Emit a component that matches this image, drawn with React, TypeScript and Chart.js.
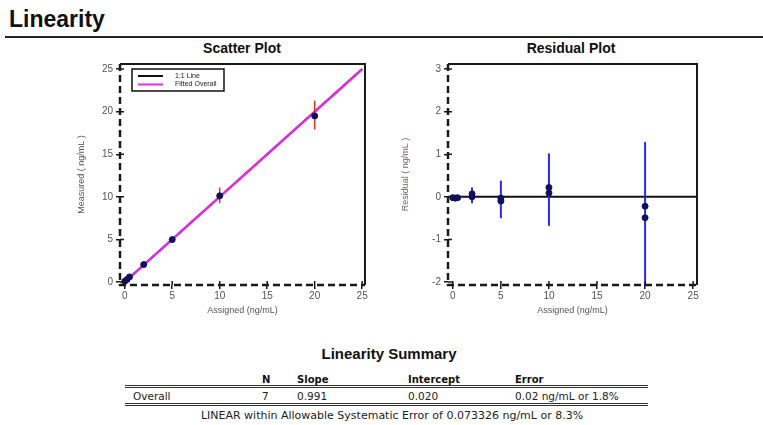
import React, { useEffect, useRef } from "react";
import { Chart, registerables } from "chart.js";

Chart.register(...registerables);

// ---------- data ----------
const xTickValues = [0, 5, 10, 15, 20, 25];
const scatterYTickValues = [0, 5, 10, 15, 20, 25];
const residYTickValues = [-2, -1, 0, 1, 2, 3];

const assigned = [0, 0.25, 0.5, 2, 5, 10, 20];
const measured = [0.08, 0.3, 0.6, 2.05, 4.98, 10.12, 19.5];

const scatterErrX = [5, 10, 20];
const scatterErrLo = [4.85, 9.25, 17.9];
const scatterErrHi = [5.15, 11.1, 21.3];

const identityX = [0, 25];
const identityY = [0, 25];
const fittedX = [0, 25];
const fittedY = [0.02, 24.97];

const residX = [0, 0.25, 0.5, 2, 2, 5, 5, 10, 10, 20, 20];
const residY = [-0.02, -0.03, -0.02, 0.07, 0.0, -0.03, -0.1, 0.22, 0.09, -0.22, -0.49];

const residErrX = [0, 0.25, 0.5, 2, 5, 10, 20];
const residErrLo = [-0.06, -0.06, -0.06, -0.15, -0.5, -0.68, -2.4];
const residErrHi = [0.03, 0.03, 0.03, 0.22, 0.38, 1.02, 1.29];

const zeroLineX = [-1, 26];
const zeroLineY = [0, 0];

const tableHeaders = ["N", "Slope", "Intercept", "Error"];
const tableRow = ["Overall", "7", "0.991", "0.020", "0.02 ng/mL or 1.8%"];
const footerText = "LINEAR within Allowable Systematic Error of 0.073326 ng/mL or 8.3%";

// ---------- styles ----------
const POINT_COLOR = "#10105e";
const AXIS_COLOR = "#1a1a1a";
const TICK_COLOR = "#555";
const FONT = "Arial, 'Liberation Sans', sans-serif";
const TABLE_FONT = "'DejaVu Sans', Verdana, sans-serif";

const pts = (xs: number[], ys: number[]) => xs.map((x, i) => ({ x, y: ys[i] }));

const framePlugin = {
  id: "frame",
  afterDatasetsDraw(chart: any) {
    const { ctx, chartArea: a, scales } = chart;
    ctx.save();
    ctx.strokeStyle = AXIS_COLOR;
    ctx.lineWidth = 2;
    ctx.beginPath();
    ctx.moveTo(a.left, a.top);
    ctx.lineTo(a.right, a.top);
    ctx.lineTo(a.right, a.bottom);
    ctx.stroke();
    ctx.lineWidth = 2.5;
    ctx.setLineDash([7, 4]);
    ctx.beginPath();
    ctx.moveTo(a.left, a.top);
    ctx.lineTo(a.left, a.bottom);
    ctx.lineTo(a.right, a.bottom);
    ctx.stroke();
    ctx.setLineDash([]);
    ctx.lineWidth = 1.5;
    ctx.beginPath();
    scales.x.ticks.forEach((t: any) => {
      const px = scales.x.getPixelForValue(t.value);
      ctx.moveTo(px, a.bottom);
      ctx.lineTo(px, a.bottom - 4);
    });
    scales.y.ticks.forEach((t: any) => {
      const py = scales.y.getPixelForValue(t.value);
      ctx.moveTo(a.left, py);
      ctx.lineTo(a.left + 4, py);
    });
    ctx.stroke();
    ctx.restore();
  },
};

const legendPlugin = {
  id: "boxLegend",
  afterDraw(chart: any) {
    if (!chart.options.plugins.boxLegend?.show) return;
    const { ctx, chartArea: a } = chart;
    const items = chart.data.datasets.filter((d: any) => d.inLegend);
    const x = a.left + 12;
    const y = a.top + 5;
    const w = 92;
    const h = 22;
    ctx.save();
    ctx.fillStyle = "#fff";
    ctx.fillRect(x, y, w, h);
    ctx.strokeStyle = "#111";
    ctx.lineWidth = 1.5;
    ctx.strokeRect(x, y, w, h);
    items.forEach((d: any, i: number) => {
      const ly = y + 7 + i * 8.5;
      ctx.strokeStyle = d.borderColor;
      ctx.lineWidth = 2;
      ctx.beginPath();
      ctx.moveTo(x + 6, ly);
      ctx.lineTo(x + 31, ly);
      ctx.stroke();
      ctx.fillStyle = "#222";
      ctx.font = "7px " + FONT;
      ctx.textBaseline = "middle";
      ctx.fillText(d.label, x + 43, ly);
    });
    ctx.restore();
  },
};

function makeScale(
  min: number,
  max: number,
  tickValues: number[],
  title: string,
  isY: boolean,
  fitSize: number,
  titlePad: any,
  titleColor: string
) {
  return {
    type: "linear",
    min,
    max,
    afterBuildTicks: (scale: any) => {
      scale.ticks = tickValues.map((v) => ({ value: v }));
    },
    afterFit: (scale: any) => {
      if (isY) scale.width = fitSize;
      else scale.height = fitSize;
    },
    grid: {
      display: true,
      drawOnChartArea: false,
      drawTicks: true,
      tickLength: 4,
      color: AXIS_COLOR,
      lineWidth: 1.5,
    },
    border: { display: false },
    ticks: {
      color: TICK_COLOR,
      font: { family: FONT, size: 10 },
      padding: isY ? 3 : 1,
      maxRotation: 0,
      autoSkip: false,
      callback: (v: any) => String(v),
    },
    title: {
      display: true,
      text: title,
      color: titleColor,
      font: { family: FONT, size: 9 },
      padding: titlePad,
    },
  };
}

function useChart(ref: any, config: any) {
  useEffect(() => {
    const chart = new Chart(ref.current, config);
    return () => chart.destroy();
  }, []);
}

function ScatterChart() {
  const ref = useRef<HTMLCanvasElement>(null);
  const errSets = scatterErrX.map((x, i) => ({
    type: "line",
    label: "err" + i,
    data: pts([x, x], [scatterErrLo[i], scatterErrHi[i]]),
    borderColor: "#e8321e",
    borderWidth: 1.5,
    pointRadius: 0,
    showLine: true,
    order: 1,
  }));
  useChart(ref, {
    type: "scatter",
    data: {
      datasets: [
        {
          label: "Measured",
          data: pts(assigned, measured),
          backgroundColor: POINT_COLOR,
          borderColor: POINT_COLOR,
          pointRadius: 3,
          order: 0,
        },
        ...errSets,
        {
          type: "line",
          label: "1:1 Line",
          inLegend: true,
          data: pts(identityX, identityY),
          borderColor: "#111",
          borderWidth: 2,
          pointRadius: 0,
          showLine: true,
          order: 3,
        },
        {
          type: "line",
          label: "Fitted Overall",
          inLegend: true,
          data: pts(fittedX, fittedY),
          borderColor: "#e22ee2",
          borderWidth: 2.5,
          pointRadius: 0,
          showLine: true,
          order: 2,
        },
      ],
    },
    options: {
      responsive: false,
      animation: false,
      devicePixelRatio: 1,
      layout: { padding: { left: 0, right: 15, top: 6, bottom: 0 } },
      plugins: { legend: { display: false }, tooltip: { enabled: false }, boxLegend: { show: true } },
      scales: {
        x: makeScale(-0.5, 25.3, xTickValues, "Assigned (ng/mL)", false, 35, { top: 0, bottom: 3.6 }, "#555"),
        y: makeScale(-0.35, 25.6, scatterYTickValues, "Measured ( ng/mL )", true, 80, { top: 36.6, bottom: 0 }, "#555"),
      },
    },
    plugins: [framePlugin, legendPlugin],
  });
  return <canvas ref={ref} width={340} height={265} style={{ width: 340, height: 265, display: "block" }} />;
}

function ResidualChart() {
  const ref = useRef<HTMLCanvasElement>(null);
  const errSets = residErrX.map((x, i) => ({
    type: "line",
    label: "err" + i,
    data: pts([x, x], [residErrLo[i], residErrHi[i]]),
    borderColor: "#2a2ae6",
    borderWidth: 2,
    pointRadius: 0,
    showLine: true,
    order: 1,
  }));
  useChart(ref, {
    type: "scatter",
    data: {
      datasets: [
        {
          label: "Residual",
          data: pts(residX, residY),
          backgroundColor: POINT_COLOR,
          borderColor: POINT_COLOR,
          pointRadius: 3,
          order: 0,
        },
        ...errSets,
        {
          type: "line",
          label: "Zero",
          data: pts(zeroLineX, zeroLineY),
          borderColor: "#111",
          borderWidth: 2,
          pointRadius: 0,
          showLine: true,
          order: 2,
        },
      ],
    },
    options: {
      responsive: false,
      animation: false,
      devicePixelRatio: 1,
      layout: { padding: { left: 0, right: 13, top: 6, bottom: 0 } },
      plugins: { legend: { display: false }, tooltip: { enabled: false } },
      scales: {
        x: makeScale(-0.5, 25.4, xTickValues, "Assigned (ng/mL)", false, 35, { top: 0, bottom: 3.6 }, "#555"),
        y: makeScale(-2.07, 3.12, residYTickValues, "Residual ( ng/mL )", true, 83, { top: 35.6, bottom: 0 }, "#7a6558"),
      },
    },
    plugins: [framePlugin],
  });
  return <canvas ref={ref} width={345} height={265} style={{ width: 345, height: 265, display: "block" }} />;
}

const abs = (s: any) => ({ position: "absolute" as const, whiteSpace: "nowrap" as const, ...s });

export default function App() {
  const headerLefts = [262, 297, 408, 515];
  const rowLefts = [133, 262, 297, 408, 515];
  return (
    <div style={abs({ left: 0, top: 0, width: 763, height: 425, background: "#fff", fontFamily: FONT, color: "#111", overflow: "hidden" })}>
      <div style={abs({ left: 9, top: 6, fontSize: 23, fontWeight: "bold", lineHeight: "26px" })}>Linearity</div>
      <div style={abs({ left: 5, top: 36, width: 758, height: 2, background: "#222" })} />
      <div style={abs({ left: 142, width: 200, top: 40, fontSize: 14, fontWeight: "bold", lineHeight: "16px", textAlign: "center" })}>Scatter Plot</div>
      <div style={abs({ left: 471, width: 200, top: 40, fontSize: 14, fontWeight: "bold", lineHeight: "16px", textAlign: "center" })}>Residual Plot</div>
      <div style={abs({ left: 40, top: 55 })}>
        <ScatterChart />
      </div>
      <div style={abs({ left: 365, top: 55 })}>
        <ResidualChart />
      </div>
      <div style={abs({ left: 289, width: 200, top: 345, fontSize: 15, fontWeight: "bold", lineHeight: "18px", textAlign: "center" })}>Linearity Summary</div>
      {tableHeaders.map((h, i) => (
        <div key={h} style={abs({ left: headerLefts[i], top: 374, fontSize: 10, fontWeight: "bold", lineHeight: "12px", fontFamily: TABLE_FONT })}>{h}</div>
      ))}
      <div style={abs({ left: 125, top: 385, width: 523, height: 1.2, background: "#333" })} />
      <div style={abs({ left: 125, top: 387, width: 523, height: 1.2, background: "#333" })} />
      {tableRow.map((c, i) => (
        <div key={i} style={abs({ left: rowLefts[i], top: 390, fontSize: 10.5, lineHeight: "12px", fontFamily: TABLE_FONT, color: "#222" })}>{c}</div>
      ))}
      <div style={abs({ left: 125, top: 403, width: 523, height: 1.2, background: "#333" })} />
      <div style={abs({ left: 125, top: 405, width: 523, height: 1.2, background: "#333" })} />
      <div style={abs({ left: 142, width: 500, top: 410, fontSize: 11, lineHeight: "12px", textAlign: "center", fontFamily: TABLE_FONT, color: "#222" })}>{footerText}</div>
    </div>
  );
}
